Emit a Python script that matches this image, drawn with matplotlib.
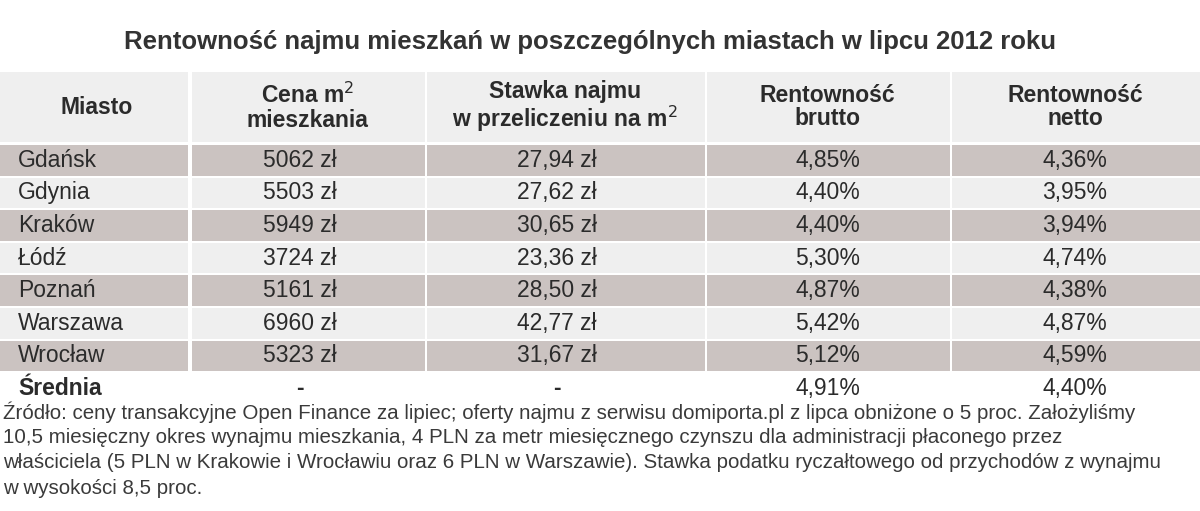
import matplotlib
matplotlib.use("Agg")
import matplotlib.pyplot as plt
from matplotlib.patches import Rectangle

title = "Rentowność najmu mieszkań w poszczególnych miastach w lipcu 2012 roku"
headers = ["Miasto", "Cena m$^2$\nmieszkania", "Stawka najmu\nw przeliczeniu na m$^2$", "Rentowność\nbrutto", "Rentowność\nnetto"]
cities = ["Gdańsk", "Gdynia", "Kraków", "Łódź", "Poznań", "Warszawa", "Wrocław", "Średnia"]
price = ["5062 zł", "5503 zł", "5949 zł", "3724 zł", "5161 zł", "6960 zł", "5323 zł", "-"]
rent = ["27,94 zł", "27,62 zł", "30,65 zł", "23,36 zł", "28,50 zł", "42,77 zł", "31,67 zł", "-"]
gross = ["4,85%", "4,40%", "4,40%", "5,30%", "4,87%", "5,42%", "5,12%", "4,91%"]
net = ["4,36%", "3,95%", "3,94%", "4,74%", "4,38%", "4,87%", "4,59%", "4,40%"]
footnote = [
    "Źródło: ceny transakcyjne Open Finance za lipiec; oferty najmu z serwisu domiporta.pl z lipca obniżone o 5 proc. Założyliśmy",
    "10,5 miesięczny okres wynajmu mieszkania, 4 PLN za metr miesięcznego czynszu dla administracji płaconego przez",
    "właściciela (5 PLN w Krakowie i Wrocławiu oraz 6 PLN w Warszawie). Stawka podatku ryczałtowego od przychodów z wynajmu",
    "w wysokości 8,5 proc.",
]

plt.rcParams["font.family"] = "Liberation Sans"
W, H = 1200, 511
fig = plt.figure(figsize=(12, 5.11), dpi=100)
ax = fig.add_axes([0, 0, 1, 1])
ax.set_xlim(0, W); ax.set_ylim(H, 0); ax.axis("off")

col_edges = [0, 190, 425, 705, 950, 1200]
centers = [(a + b) / 2 for a, b in zip(col_edges[:-1], col_edges[1:])]
light, dark = "#efefef", "#cbc3c1"
txt = "#2b2b2b"
fs = 16.5

ax.text(590, 42, title, ha="center", va="center", fontsize=18.5, fontweight="bold", color="#333333")

hy0, hy1 = 72, 142
for i in range(5):
    ax.add_patch(Rectangle((col_edges[i] + (2 if i else 0), hy0), col_edges[i+1] - col_edges[i] - 2, hy1 - hy0, fc=light, ec="none"))
    ax.text(centers[i] if i else 97, (hy0 + hy1) / 2, headers[i], ha="center", va="center",
            fontsize=fs, fontweight="bold", color=txt, linespacing=1.05)

row_h = 32.6
y0 = 144
for r, city in enumerate(cities):
    top = y0 + r * row_h
    cy = top + row_h / 2
    if r < 7:
        fc = dark if r % 2 == 0 else light
        for i in range(5):
            ax.add_patch(Rectangle((col_edges[i] + (2 if i else 0), top + 1), col_edges[i+1] - col_edges[i] - 2, row_h - 2, fc=fc, ec="none"))
    bold = r == 7
    ax.text(18, cy, city, ha="left", va="center", fontsize=fs, color=txt, fontweight="bold" if bold else "normal")
    for i, vals in enumerate([price, rent, gross, net], start=1):
        ax.text(centers[i] - (8 if i in (1, 2) else 0), cy, vals[r], ha="center", va="center", fontsize=fs, color=txt,
                fontweight="bold" if vals[r] == "-" else "normal")

for k, line in enumerate(footnote):
    ax.text(3, 412 + k * 25.5, line, ha="left", va="center", fontsize=14.8, color="#3a3a3a")

fig.savefig("out.png", dpi=100, facecolor="white")
